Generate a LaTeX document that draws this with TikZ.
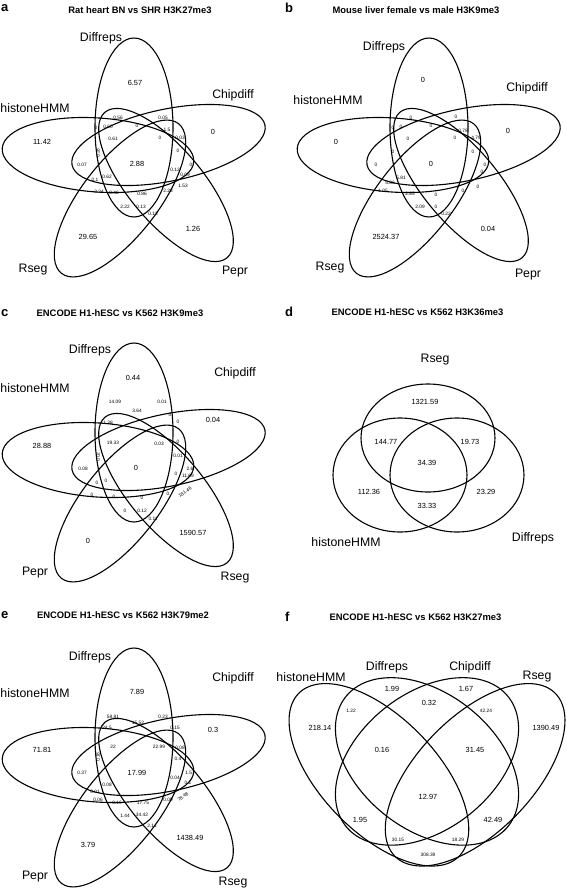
\documentclass[tikz,border=0pt]{standalone}
\usepackage{fontspec}
\setmainfont{Liberation Sans}
\usetikzlibrary{positioning}
\tikzset{
  venn/.style={draw=black,line width=1.1pt},
  setlabel/.style={font=\fontsize{12.3}{14}\selectfont,inner sep=0pt},
  bignum/.style={font=\fontsize{7.4}{8}\selectfont,inner sep=0pt},
  smallnum/.style={font=\fontsize{4.8}{5}\selectfont,inner sep=0pt},
  paneltitle/.style={font=\fontsize{9.4}{11}\selectfont\bfseries,inner sep=0pt},
  panelletter/.style={font=\fontsize{13}{14}\selectfont\bfseries,inner sep=0pt,anchor=west},
}
% five ellipses, pixel frame of panel a, shifted by (#1,#2)
\newcommand{\fivevenn}[2]{%
  \begin{scope}[shift={(#1,#2)}]
    \draw[venn] (134,127.5) ellipse [x radius=39, y radius=89.5];                              % top
    \draw[venn,rotate around={11.7:(168.5,145)}] (168.5,145) ellipse [x radius=98.5, y radius=36]; % right
    \draw[venn,rotate around={-50:(166,185)}] (166,185) ellipse [x radius=95, y radius=37];        % lower right
    \draw[venn,rotate around={52:(120,198.5)}] (120,198.5) ellipse [x radius=95, y radius=38];     % lower left
    \draw[venn,rotate around={-4:(98,155)}] (98,155) ellipse [x radius=96, y radius=37];           % left
  \end{scope}}
% ellipse of the four-set panel, given in its own unit square
\newcommand{\quadring}[5]{%
  \draw[venn] plot[smooth cycle,samples=72,domain=0:355,variable=\t]
    ({269+316*(#1+#3*cos(\t)*cos(#5)-#4*sin(\t)*sin(#5))},
     {919.5-289*(#2+#3*cos(\t)*sin(#5)+#4*sin(\t)*cos(#5))});}

\begin{document}
\begin{tikzpicture}[x=1pt,y=-1pt]
  \useasboundingbox (0,0) rectangle (567,889);
  \fill[white] (0,0) rectangle (567,889);

  % --- a: Rat heart ---
  \node[panelletter] (a-let) at (1,8) {a};
  \node[paneltitle] (a-tit) at (140,10) {Rat heart BN vs SHR H3K27me3};
  \fivevenn{0}{0}
  \node[setlabel] (a-dif) at (101,38) {Diffreps};
  \node[setlabel] (a-chi) at (233,95) {Chipdiff};
  \node[setlabel] (a-hmm) at (35,108) {histoneHMM};
  \node[setlabel] (a-rse) at (33,270) {Rseg};
  \node[setlabel] (a-pep) at (235,272) {Pepr};
  \foreach \t/\x/\y [count=\i] in {6.57/135/83, 0/213/132, 11.42/42/142, 2.88/137/164, 29.65/88/237, 1.26/193/229}
    \node[bignum] (a-big\i) at (\x,\y) {\t};
  \foreach \t/\x/\y [count=\i] in {0.56/118/118, 0.05/163/118, 0/137/126, 0.60/108/127, 1.5/167/130,
      0.61/113/139, 0/160/138, 0.03/180/138, 0/178/151, 0.07/82/165, 0/191/165, 0.12/175/170,
      0.09/185/175, 0.62/107/177, 0.1/95/180, 1.53/183/186, 2.23/168/191, 2.24/99/192,
      0.46/114/193, 0.86/142/194, 2.22/125/207, 0.13/141/207, 0.13/153/214, 0/96/128}
    \node[smallnum] (a-sm\i) at (\x,\y) {\t};
  \node[smallnum,rotate=90] (a-rot) at (98,153) {0.28};

  % --- b: Mouse liver ---
  \node[panelletter] (b-let) at (285,8) {b};
  \node[paneltitle] (b-tit) at (416,10) {Mouse liver female vs male H3K9me3};
  \fivevenn{295}{0}
  \node[setlabel] (b-dif) at (384,47) {Diffreps};
  \node[setlabel] (b-chi) at (527,88) {Chipdiff};
  \node[setlabel] (b-hmm) at (328,100) {histoneHMM};
  \node[setlabel] (b-rse) at (330,268) {Rseg};
  \node[setlabel] (b-pep) at (528,275) {Pepr};
  \foreach \t/\x/\y [count=\i] in {0/423/80, 0/508/131, 0/336/142, 0/431/164, 2524.37/386/237, 0.04/488/229}
    \node[bignum] (b-big\i) at (\x,\y) {\t};
  \foreach \t/\x/\y [count=\i] in {0/411/118, 0/456/117, 0/431/126, 0/408/139, 0/455/138, 0.78/463/131,
      4.79/476/138, 0/393/128, 0/401/127, 0/393/152, 0/376/165, 0/473/152, 0/485/165, 0/482/172,
      0/478/187, 0/463/191, 0/436/195, 2.85/410/194, 2.09/420/207, 0/436/207, 0.22/446/214,
      5.81/401/178, 5.86/390/183, 1.05/383/191}
    \node[smallnum] (b-sm\i) at (\x,\y) {\t};

  % --- c: ENCODE H3K9me3 ---
  \node[panelletter] (c-let) at (1,313) {c};
  \node[paneltitle] (c-tit) at (120,313) {ENCODE H1-hESC vs K562 H3K9me3};
  \fivevenn{0}{305}
  \node[setlabel] (c-dif) at (90,350) {Diffreps};
  \node[setlabel] (c-chi) at (235,373) {Chipdiff};
  \node[setlabel] (c-hmm) at (35,388) {histoneHMM};
  \node[setlabel] (c-pep) at (35,573) {Pepr};
  \node[setlabel] (c-rse) at (235,578) {Rseg};
  \foreach \t/\x/\y [count=\i] in {0.44/133/378, 0.04/213/420, 28.88/42/446, 0/136/468, 1590.57/193/533, 0/88/541}
    \node[bignum] (c-big\i) at (\x,\y) {\t};
  \foreach \t/\x/\y [count=\i] in {14.09/115/402, 0.01/162/402, 3.64/137/411, 19.33/113/443, 0.03/159/444,
      0/170/415, 0/178/422, 0/178/442, 0.01/178/456, 0.08/83/469, 0/97/483, 0/106/481, 0/176/474,
      2.6/190/469, 11.69/188/476, 0/92/495, 0/114/497, 0/142/498, 0/168/494, 0/125/511,
      0.12/142/511, 0.11/153/519, 1.38/108/423}
    \node[smallnum] (c-sm\i) at (\x,\y) {\t};
  \node[smallnum,rotate=90] (c-rot1) at (98,457) {0.02};
  \node[smallnum,rotate=35] (c-rot2) at (185,492) {181.46};

  % --- d: ENCODE H3K36me3 ---
  \node[panelletter] (d-let) at (285,312) {d};
  \node[paneltitle] (d-tit) at (417.5,312) {ENCODE H1-hESC vs K562 H3K36me3};
  \draw[venn] (428,438) ellipse [x radius=67, y radius=54];
  \draw[venn] (400,475) ellipse [x radius=67, y radius=57];
  \draw[venn] (457,475) ellipse [x radius=67, y radius=57];
  \node[setlabel] (d-rse) at (435,360) {Rseg};
  \node[setlabel] (d-hmm) at (346,542) {histoneHMM};
  \node[setlabel] (d-dif) at (533,538) {Diffreps};
  \foreach \t/\x/\y [count=\i] in {1321.59/425/402, 144.77/386/442, 19.73/470/442, 34.39/427/463,
      112.36/369/492, 23.29/486/492, 33.33/427/506}
    \node[bignum] (d-num\i) at (\x,\y) {\t};

  % --- e: ENCODE H3K79me2 ---
  \node[panelletter] (e-let) at (1,615) {e};
  \node[paneltitle] (e-tit) at (123,615) {ENCODE H1-hESC vs K562 H3K79me2};
  \fivevenn{0}{610}
  \node[setlabel] (e-dif) at (90,657) {Diffreps};
  \node[setlabel] (e-chi) at (233,678) {Chipdiff};
  \node[setlabel] (e-hmm) at (35,693) {histoneHMM};
  \node[setlabel] (e-pep) at (35,877) {Pepr};
  \node[setlabel] (e-rse) at (233,883) {Rseg};
  \foreach \t/\x/\y [count=\i] in {7.89/137/692, 0.3/213/730, 71.81/42/750, 17.99/137/773, 3.79/88/845, 1438.49/190/838}
    \node[bignum] (e-big\i) at (\x,\y) {\t};
  \foreach \t/\x/\y [count=\i] in {58.81/113/717, 0.23/163/717, 15.52/138/723, 0.15/175/728, 24.5/107/728,
      22/113/747, 22.99/159/747, 0.08/180/748, 0.4/178/759, 0.37/82/773, 0.04/175/778, 1.57/190/773,
      0.1/188/783, 0.01/95/792, 0.08/107/785, 0.06/98/800, 0.16/117/803, 17.75/143/803, 0.09/168/800,
      1.44/125/816, 34.42/142/815, 2.14/152/826}
    \node[smallnum] (e-sm\i) at (\x,\y) {\t};
  \node[smallnum,rotate=90] (e-rot1) at (98,757) {0.18};
  \node[smallnum,rotate=35] (e-rot2) at (183,797) {78.48};

  % --- f: ENCODE H3K27me3 ---
  \node[panelletter] (f-let) at (285,617) {f};
  \node[paneltitle] (f-tit) at (415.5,617) {ENCODE H1-hESC vs K562 H3K27me3};
  \quadring{0.3478}{0.5007}{0.38}{0.19}{130}
  \quadring{0.500}{0.547}{0.342}{0.226}{135}
  \quadring{0.500}{0.547}{0.342}{0.226}{45}
  \quadring{0.6523}{0.5007}{0.38}{0.19}{50}
  \node[setlabel] (f-hmm) at (311,677) {histoneHMM};
  \node[setlabel] (f-dif) at (387,667) {Diffreps};
  \node[setlabel] (f-chi) at (470,667) {Chipdiff};
  \node[setlabel] (f-rse) at (537,677) {Rseg};
  \foreach \t/\x/\y [count=\i] in {218.14/320/728, 1390.49/546/728, 1.99/392/689, 1.67/466/689,
      0.32/429/703, 0.16/382/750, 31.45/475/750, 12.97/428/797, 1.95/360/820, 42.49/493/820}
    \node[bignum] (f-big\i) at (\x,\y) {\t};
  \foreach \t/\x/\y [count=\i] in {1.22/351/711, 42.24/486/711, 30.15/398/840, 18.29/458/840, 308.39/428/855}
    \node[smallnum] (f-sm\i) at (\x,\y) {\t};
\end{tikzpicture}
\end{document}
